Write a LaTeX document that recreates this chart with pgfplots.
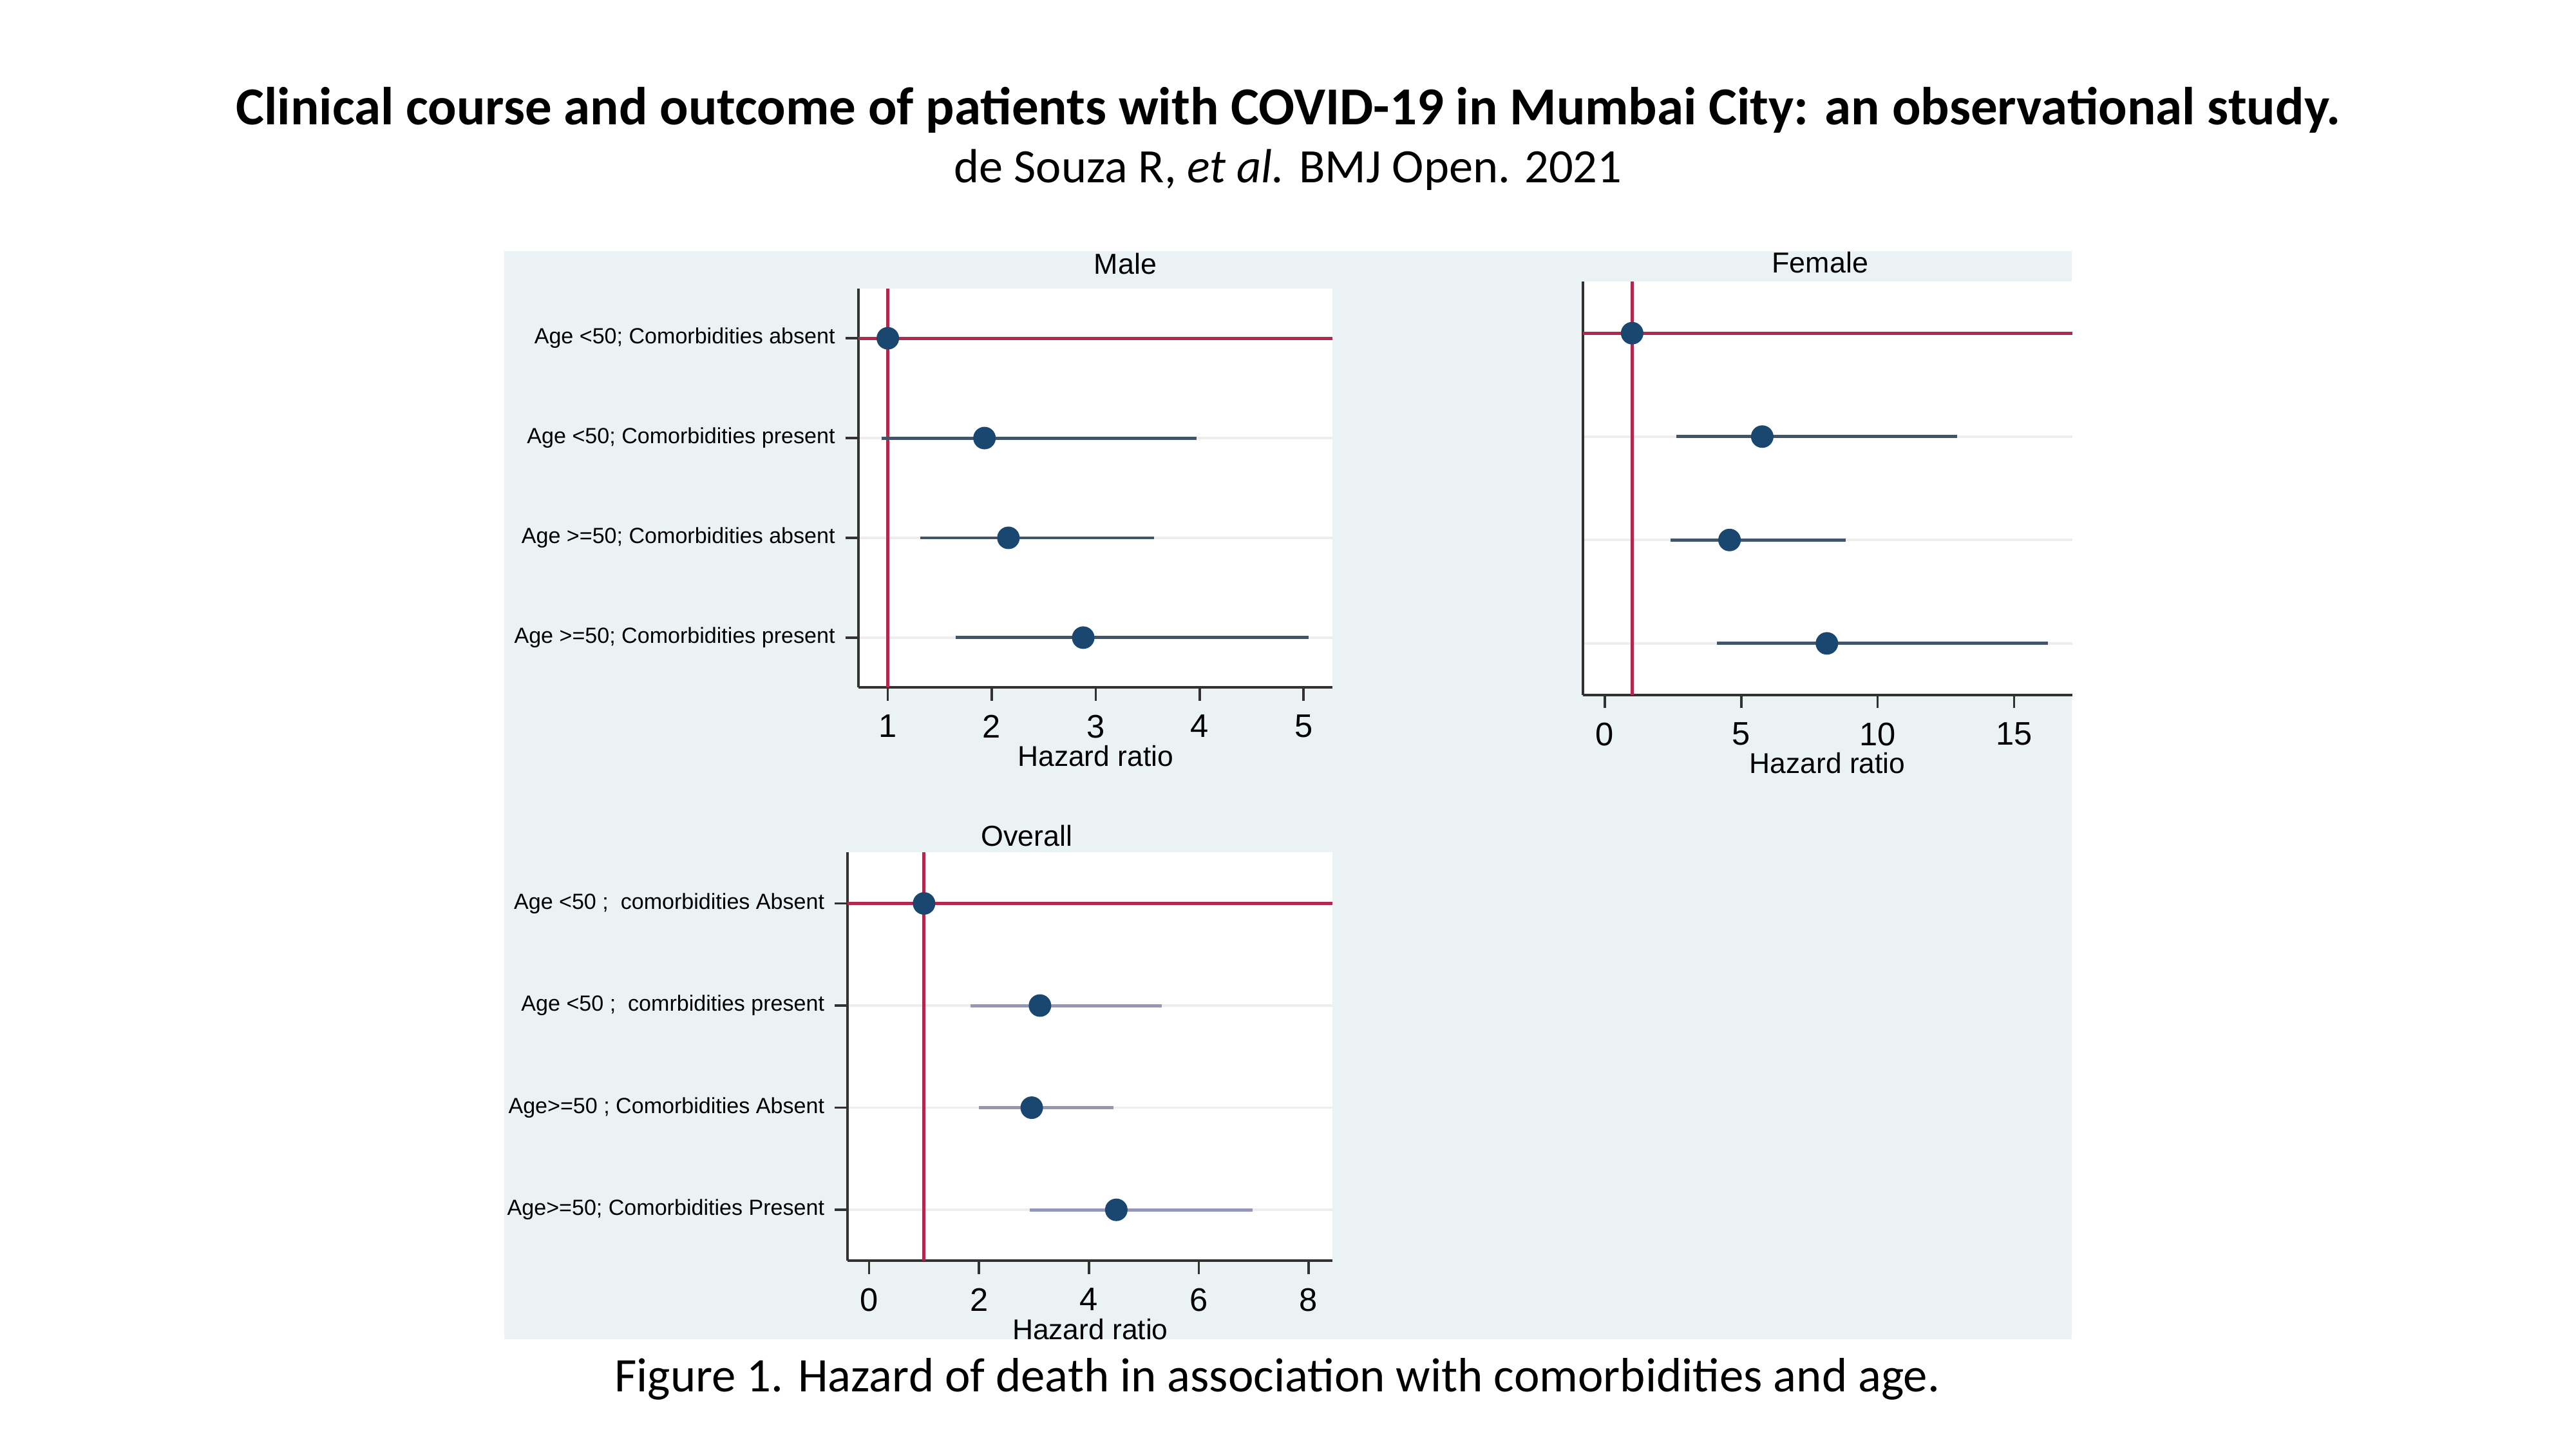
\documentclass[border=0pt]{standalone}
\usepackage{fontspec}
\setmainfont{Carlito}
\newfontfamily\arial{Liberation Sans}
\usepackage{pgfplots}
\pgfplotsset{compat=1.18}
\usepackage{pgfplotstable}

\definecolor{bgpanel}{RGB}{234,242,243}
\definecolor{dotnavy}{RGB}{26,71,111}
\definecolor{cidark}{RGB}{66,85,104}
\definecolor{cilight}{RGB}{150,150,182}
\definecolor{refred}{RGB}{176,40,78}
\definecolor{axisgray}{RGB}{50,50,50}

% hazard ratios with 95% CI; row 4 is the top row
\pgfplotstableread{
row hr   lo   hi
3   1.93 0.94 3.97
2   2.16 1.31 3.56
1   2.88 1.65 5.05
}\male
\pgfplotstableread{
row hr   lo   hi
3   5.77 2.62 12.91
2   4.57 2.40 8.83
1   8.14 4.10 16.23
}\female
\pgfplotstableread{
row hr   lo   hi
3   3.11 1.85 5.33
2   2.96 2.00 4.45
1   4.50 2.92 6.98
}\overall

\pgfplotsset{
  forest/.style={
    scale only axis,
    anchor=south west,
    axis background/.style={fill=white},
    axis x line*=bottom, axis y line*=left,
    axis line style={-, draw=axisgray, line width=0.9pt},
    ymin=0.5, ymax=4.5, ytick={1,2,3,4},
    tick align=outside, major tick length=0.16cm,
    tick style={draw=axisgray, line width=0.8pt},
    ymajorgrids, major grid style={draw=black!7, line width=0.8pt},
    /pgf/number format/assume math mode=true,
    xticklabel style={font=\arial\fontsize{11.3}{13}\selectfont, yshift=-0.05cm},
    yticklabel style={font=\arial\fontsize{7.6}{9}\selectfont},
    xlabel={Hazard ratio},
    xlabel style={font=\arial\fontsize{9.9}{11}\selectfont, anchor=center},
    % cancel the default 6pt lift of the title so it sits where it is placed
    title style={font=\arial\fontsize{10}{12}\selectfont, anchor=center, yshift=-6pt},
    clip=false,
  },
  ci/.style={only marks, mark=*, mark size=3.7pt,
    mark options={draw=dotnavy, fill=dotnavy},
    error bars/.cd, x dir=both, x explicit, error mark=none,
    error bar style={line width=1.1pt, draw=#1}},
  refline/.style={refred, line width=1.1pt, no marks},
  refdot/.style={only marks, mark=*, mark size=3.7pt, dotnavy},
}

\begin{document}
\begin{tikzpicture}
\useasboundingbox (0,0) rectangle (31.36,17.64);
\fill[bgpanel] (6.14,1.34) rectangle (25.22,14.58);

\node[anchor=base, font=\bfseries\fontsize{18.5}{22}\selectfont] at (15.68,16.12)
  {Clinical course and outcome of patients with COVID-19 in Mumbai City: an observational study.};
\node[anchor=base, font=\fontsize{16.6}{20}\selectfont] at (15.68,15.42)
  {de Souza R, \textit{et al.} BMJ Open. 2021};
\node[anchor=base, font=\fontsize{16.7}{20}\selectfont] at (15.55,0.70)
  {Figure 1. Hazard of death in association with comorbidities and age.};

% Male
\begin{axis}[forest, at={(10.45cm,9.272cm)}, width=5.774cm, height=4.858cm,
  xmin=0.717, xmax=5.28, xtick={1,2,3,4,5},
  yticklabels={Age >=50; Comorbidities present, Age >=50; Comorbidities absent,
               Age <50; Comorbidities present, Age <50; Comorbidities absent},
  title={Male}, title style={at={(axis description cs:0.563,1.061)}},
  xlabel style={at={(axis description cs:0.5,-0.172)}}]
  \addplot[refline] coordinates {(1,0.5) (1,4.5)};
  \addplot[refline] coordinates {(0.717,4) (5.28,4)};
  \addplot[ci=cidark] table[x=hr, y=row,
    x error minus expr=\thisrow{hr}-\thisrow{lo},
    x error plus expr=\thisrow{hi}-\thisrow{hr}] {\male};
  \addplot[refdot] coordinates {(1,4)};
\end{axis}

% Female
\begin{axis}[forest, at={(19.268cm,9.18cm)}, width=5.958cm, height=5.034cm,
  xmin=-0.81, xmax=17.13, xtick={0,5,10,15},
  yticklabels={}, ytick style={draw=none},
  title={Female}, title style={at={(axis description cs:0.485,1.046)}},
  xlabel style={at={(axis description cs:0.5,-0.165)}}]
  \addplot[refline] coordinates {(1,0.5) (1,4.5)};
  \addplot[refline] coordinates {(-0.81,4) (17.13,4)};
  \addplot[ci=cidark] table[x=hr, y=row,
    x error minus expr=\thisrow{hr}-\thisrow{lo},
    x error plus expr=\thisrow{hi}-\thisrow{hr}] {\female};
  \addplot[refdot] coordinates {(1,4)};
\end{axis}

% Overall
\begin{axis}[forest, at={(10.32cm,2.294cm)}, width=5.904cm, height=4.972cm,
  xmin=-0.39, xmax=8.44, xtick={0,2,4,6,8},
  yticklabels={Age>=50; Comorbidities Present, Age>=50 ; Comorbidities Absent,
               {Age <50 ;\ \ comrbidities present}, {Age <50 ;\ \ comorbidities Absent}},
  title={Overall}, title style={at={(axis description cs:0.369,1.041)}},
  xlabel style={at={(axis description cs:0.5,-0.167)}}]
  \addplot[refline] coordinates {(1,0.5) (1,4.5)};
  \addplot[refline] coordinates {(-0.39,4) (8.44,4)};
  \addplot[ci=cilight] table[x=hr, y=row,
    x error minus expr=\thisrow{hr}-\thisrow{lo},
    x error plus expr=\thisrow{hi}-\thisrow{hr}] {\overall};
  \addplot[refdot] coordinates {(1,4)};
\end{axis}
\end{tikzpicture}
\end{document}
